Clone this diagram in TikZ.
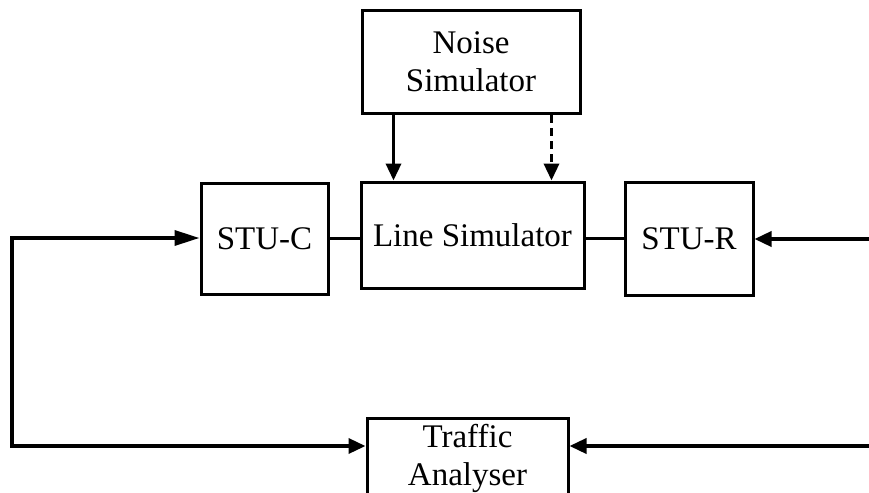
\documentclass[tikz,border=0pt]{standalone}
\usepackage{fontspec}
\setmainfont{Liberation Serif}
\usepackage{tikz}
\usetikzlibrary{positioning, arrows.meta, calc}

\begin{document}
\begin{tikzpicture}[
    x=1pt, y=-1pt,
    arrow/.style={-{Triangle[length=17pt, width=15pt]}, line width=3.5pt},
    block/.style={draw, line width=3pt, inner sep=0pt, align=center,
        font=\fontsize{33}{38}\selectfont}
]

    % Page frame
    \useasboundingbox (0,0) rectangle (869,492);
    \clip (0,0) rectangle (869,492);

    % Blocks
    \node[block, minimum width=218pt, minimum height=103pt] (noise) at (471, 62) {Noise\\Simulator};
    \node[block, minimum width=223pt, minimum height=106pt] (line) at (472.5, 235) {Line Simulator};
    \node[block, minimum width=127pt, minimum height=111pt] (stuc) at (264.5, 238.5) {STU-C};
    \node[block, minimum width=128pt, minimum height=113pt] (stur) at (689, 238.5) {STU-R};
    \node[block, minimum width=201pt, minimum height=110pt] (ta) at (467.5, 473) {};
    \node[font=\fontsize{33}{38}\selectfont, align=center] (talabel) at (467.5, 458) {Traffic\\Analyser};

    % Loop ends
    \coordinate (lt) at (12, 238);
    \coordinate (lb) at (12, 446);
    \coordinate (rt) at (869, 239);
    \coordinate (rb) at (869, 446);

    % Links between the blocks
    \draw[line width=3.5pt] (stuc.east) -- (stuc.east -| line.west);
    \draw[line width=3.5pt] (line.east |- stur.west) -- (stur.west);

    % Noise into the line
    \draw[arrow] ([xshift=34pt]line.north west |- noise.south) -- ([xshift=34pt]line.north west);
    \draw[arrow, dash pattern=on 8pt off 5pt] ([xshift=-34pt]line.north east |- noise.south) -- ([xshift=-34pt]line.north east);

    % Traffic loop
    \draw[{Triangle[length=25pt, width=15pt]}-{Triangle[length=17pt, width=15pt]}, line width=3.5pt]
        (stuc.west |- lt) -- (lt) -- (lb) -- (lb -| ta.west);
    \draw[arrow] (rt) -- (rt -| stur.east);
    \draw[arrow] (rb) -- (rb -| ta.east);

\end{tikzpicture}
\end{document}
